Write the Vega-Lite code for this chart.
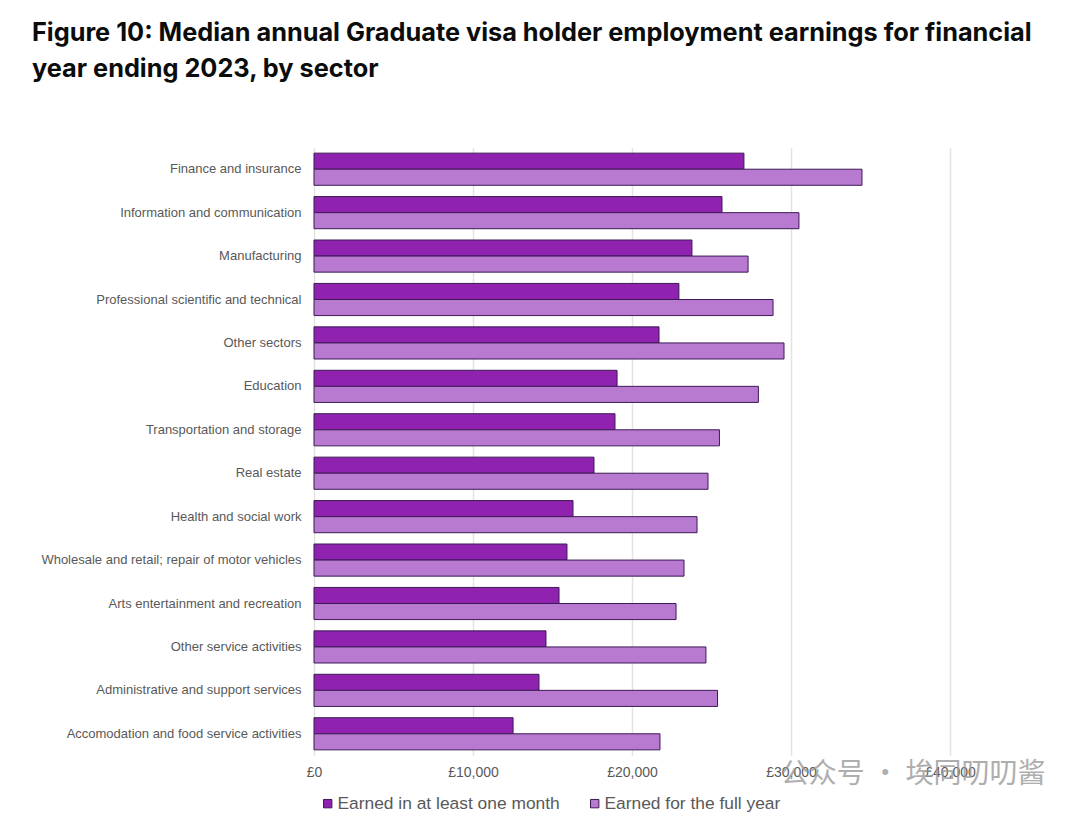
{"$schema":"https://vega.github.io/schema/vega-lite/v6.json","width":636,"height":608,"autosize":{"type":"none"},"padding":{"left":314,"top":147.5,"right":130,"bottom":61.5},"background":"white",
"title":{"text":["Figure 10: Median annual Graduate visa holder employment earnings for financial","year ending 2023, by sector"],"anchor":"start","frame":"group","dx":-282,"offset":65,"font":"Inter","fontSize":25.3,"fontWeight":700,"color":"#0b0c0c","lineHeight":36},
"datasets":{"main":[
{"sector":"Finance and insurance","series":"Earned in at least one month","earnings":27040},{"sector":"Finance and insurance","series":"Earned for the full year","earnings":34465},
{"sector":"Information and communication","series":"Earned in at least one month","earnings":25660},{"sector":"Information and communication","series":"Earned for the full year","earnings":30500},
{"sector":"Manufacturing","series":"Earned in at least one month","earnings":23770},{"sector":"Manufacturing","series":"Earned for the full year","earnings":27300},
{"sector":"Professional scientific and technical","series":"Earned in at least one month","earnings":22950},{"sector":"Professional scientific and technical","series":"Earned for the full year","earnings":28870},
{"sector":"Other sectors","series":"Earned in at least one month","earnings":21700},{"sector":"Other sectors","series":"Earned for the full year","earnings":29560},
{"sector":"Education","series":"Earned in at least one month","earnings":19060},{"sector":"Education","series":"Earned for the full year","earnings":27950},
{"sector":"Transportation and storage","series":"Earned in at least one month","earnings":18930},{"sector":"Transportation and storage","series":"Earned for the full year","earnings":25500},
{"sector":"Real estate","series":"Earned in at least one month","earnings":17610},{"sector":"Real estate","series":"Earned for the full year","earnings":24780},
{"sector":"Health and social work","series":"Earned in at least one month","earnings":16290},{"sector":"Health and social work","series":"Earned for the full year","earnings":24090},
{"sector":"Wholesale and retail; repair of motor vehicles","series":"Earned in at least one month","earnings":15910},{"sector":"Wholesale and retail; repair of motor vehicles","series":"Earned for the full year","earnings":23270},
{"sector":"Arts entertainment and recreation","series":"Earned in at least one month","earnings":15410},{"sector":"Arts entertainment and recreation","series":"Earned for the full year","earnings":22770},
{"sector":"Other service activities","series":"Earned in at least one month","earnings":14590},{"sector":"Other service activities","series":"Earned for the full year","earnings":24650},
{"sector":"Administrative and support services","series":"Earned in at least one month","earnings":14150},{"sector":"Administrative and support services","series":"Earned for the full year","earnings":25380},
{"sector":"Accomodation and food service activities","series":"Earned in at least one month","earnings":12520},{"sector":"Accomodation and food service activities","series":"Earned for the full year","earnings":21760}
],"mark":[{"label":"公众号 · 埃同叨叨酱","earnings":46000,"sector":"Accomodation and food service activities"}]},
"layer":[
{"data":{"name":"main"},"mark":{"type":"bar","stroke":"#3d1a55","strokeWidth":1},
"encoding":{
"y":{"field":"sector","type":"nominal","sort":null,"title":null,"scale":{"paddingInner":0.26,"paddingOuter":0.13},"axis":{"ticks":false,"domain":false,"labelPadding":13,"labelFont":"Liberation Sans","labelFontSize":13,"labelColor":"#595959","labelLimit":300}},
"yOffset":{"field":"series","type":"nominal","sort":["Earned in at least one month","Earned for the full year"],"scale":{"paddingInner":0,"paddingOuter":0}},
"x":{"field":"earnings","type":"quantitative","title":null,"scale":{"domain":[0,40000],"nice":false},"axis":{"values":[0,10000,20000,30000,40000],"labelExpr":"'£' + format(datum.value, ',')","labelBound":false,"labelFlush":false,"labelAlign":"center","ticks":false,"domain":false,"grid":true,"gridColor":"#e3e3e3","gridWidth":1.5,"labelPadding":10,"labelFont":"Liberation Sans","labelFontSize":14,"labelColor":"#595959"}},
"fill":{"field":"series","type":"nominal","sort":["Earned in at least one month","Earned for the full year"],"title":null,"scale":{"domain":["Earned in at least one month","Earned for the full year"],"range":["#8f22ae","#b87ad0"]},"legend":{"orient":"none","legendX":5,"legendY":647,"direction":"horizontal","columns":2,"symbolType":"square","symbolSize":70,"symbolStrokeColor":"#3d1a55","symbolStrokeWidth":1,"labelFont":"Liberation Sans","labelFontSize":17.4,"labelColor":"#595959","labelOffset":1,"columnPadding":26,"labelLimit":300}}
}},
{"data":{"name":"mark"},"mark":{"type":"text","font":"Noto Sans CJK SC","fontSize":28,"color":"#9a9a9a","opacity":0.8,"align":"right","dy":41,"clip":false},
"encoding":{"x":{"field":"earnings","type":"quantitative"},"y":{"field":"sector","type":"nominal","sort":null},"text":{"field":"label"}}}
],
"config":{"view":{"stroke":null}}}
